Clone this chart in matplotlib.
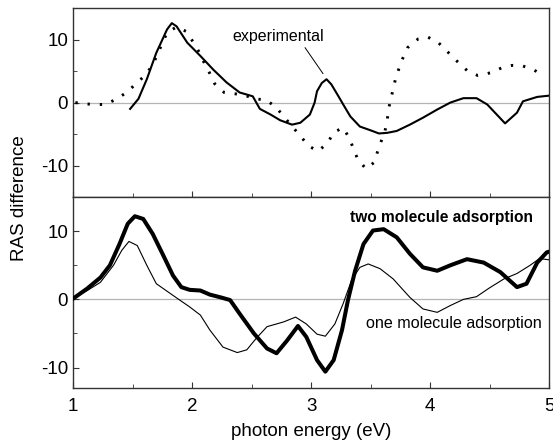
import numpy as np
import matplotlib.pyplot as plt

plt.rcParams['font.family'] = ['Liberation Sans', 'DejaVu Sans']
plt.rcParams['axes.unicode_minus'] = False

# --- datos ---
# panel superior: experimental (linea continua)
exp_x = [1.48, 1.55, 1.62, 1.70, 1.79, 1.83, 1.87, 1.96, 2.07, 2.18, 2.29, 2.40,
         2.51, 2.57, 2.66, 2.74, 2.84, 2.91, 2.99, 3.03, 3.05, 3.09, 3.13, 3.17,
         3.23, 3.27, 3.33, 3.41, 3.50, 3.57, 3.64, 3.72, 3.83, 3.94, 4.06, 4.17,
         4.28, 4.39, 4.48, 4.56, 4.63, 4.73, 4.78, 4.90, 5.00]
exp_y = [-1.0, 0.6, 3.7, 7.9, 11.6, 12.6, 12.1, 9.5, 7.4, 5.2, 3.2, 1.6,
         1.0, -1.0, -1.9, -2.8, -3.5, -3.2, -1.9, 0.0, 1.8, 3.1, 3.7, 2.9,
         1.0, -0.3, -2.2, -3.8, -4.4, -4.9, -4.8, -4.5, -3.5, -2.4, -1.1, 0.0,
         0.7, 0.7, -0.3, -1.9, -3.3, -1.6, 0.2, 0.9, 1.1]

# panel superior: curva punteada
dot_x = [1.02, 1.10, 1.18, 1.27, 1.36, 1.45, 1.53, 1.61, 1.67, 1.71, 1.79, 1.87,
         1.95, 2.01, 2.06, 2.10, 2.15, 2.19, 2.27, 2.36, 2.45, 2.53, 2.62, 2.70,
         2.77, 2.91, 2.98, 3.06, 3.14, 3.19, 3.27, 3.32, 3.39, 3.46, 3.53, 3.56,
         3.59, 3.62, 3.64, 3.65, 3.67, 3.69, 3.71, 3.74, 3.77, 3.81, 3.90, 3.98,
         4.07, 4.15, 4.23, 4.31, 4.40, 4.48, 4.52, 4.60, 4.69, 4.78, 4.87, 4.95]
dot_y = [0.0, -0.2, -0.3, -0.3, 0.5, 1.6, 3.0, 4.4, 6.0, 7.7, 11.1, 12.0,
         11.3, 9.6, 8.0, 6.4, 4.6, 3.0, 1.6, 1.4, 1.1, 0.6, 0.4, -0.6,
         -2.2, -5.3, -6.9, -7.7, -6.4, -4.7, -4.0, -5.6, -8.9, -10.5, -9.5, -7.7,
         -6.1, -4.6, -2.8, -1.1, 0.5, 2.2, 3.8, 5.5, 7.0, 8.7, 10.1, 10.4,
         9.5, 8.0, 6.5, 5.1, 4.3, 4.6, 4.8, 5.5, 5.9, 5.8, 5.2, 4.3]

# panel inferior: dos moleculas (gruesa)
two_x = [1.00, 1.12, 1.23, 1.31, 1.39, 1.46, 1.52, 1.59, 1.67, 1.76, 1.84, 1.91,
         1.98, 2.07, 2.15, 2.24, 2.32, 2.40, 2.52, 2.63, 2.71, 2.80, 2.89, 2.96,
         3.05, 3.12, 3.19, 3.26, 3.31, 3.37, 3.44, 3.52, 3.61, 3.72, 3.83, 3.94,
         4.06, 4.17, 4.31, 4.45, 4.59, 4.73, 4.81, 4.90, 4.98, 5.00]
two_y = [0.1, 1.6, 3.2, 5.0, 8.1, 11.1, 12.2, 11.8, 9.6, 6.4, 3.5, 1.8,
         1.4, 1.3, 0.7, 0.3, -0.1, -2.1, -5.0, -7.2, -7.9, -6.0, -3.9, -5.5,
         -8.9, -10.6, -8.9, -4.5, -0.1, 4.2, 8.1, 10.1, 10.3, 9.1, 6.7, 4.7,
         4.2, 5.0, 5.9, 5.4, 4.0, 1.8, 2.3, 5.4, 6.9, 7.0]

# panel inferior: una molecula (fina)
one_x = [1.00, 1.12, 1.23, 1.34, 1.41, 1.47, 1.54, 1.62, 1.70, 1.79, 1.88, 1.98,
         2.07, 2.15, 2.26, 2.38, 2.46, 2.54, 2.63, 2.77, 2.87, 2.96, 3.05, 3.12,
         3.20, 3.27, 3.34, 3.41, 3.48, 3.58, 3.69, 3.83, 3.94, 4.06, 4.17, 4.28,
         4.39, 4.50, 4.62, 4.73, 4.84, 4.92, 5.00]
one_y = [0.1, 1.3, 2.5, 5.0, 7.2, 8.5, 7.9, 5.0, 2.3, 1.2, 0.1, -1.1,
         -2.3, -4.5, -7.0, -7.8, -7.4, -5.7, -4.0, -3.3, -2.6, -3.6, -5.1, -5.4,
         -3.6, -0.6, 2.8, 4.7, 5.2, 4.5, 3.0, 0.3, -1.4, -1.9, -0.9, 0.0,
         0.4, 1.7, 3.0, 3.8, 5.0, 6.0, 5.8]

fig = plt.figure(figsize=(5.53, 4.46), dpi=100)
ax1 = fig.add_axes([0.132, 0.558, 0.861, 0.424])
ax2 = fig.add_axes([0.132, 0.130, 0.861, 0.428])

for ax in (ax1, ax2):
    ax.axhline(0, color="#b4b4b4", linewidth=0.9, zorder=1)
    ax.set_xlim(1, 5)
    ax.set_xticks([1, 2, 3, 4, 5])
    ax.set_xticks(np.arange(1, 5.01, 0.5), minor=True)
    ax.set_yticks([-10, 0, 10])
    ax.set_yticks([-5, 5], minor=True)
    ax.tick_params(which="both", direction="in", labelsize=13.5, color="#333333",
                   top=False, right=False)
    ax.tick_params(which="major", length=4)
    ax.tick_params(which="minor", length=3)
    for s in ax.spines.values():
        s.set_color("#333333")
        s.set_linewidth(1.0)

# Grafica superior
ax1.plot(exp_x, exp_y, color="black", linewidth=1.5, zorder=3)
ax1.plot(dot_x, dot_y, color="black", linewidth=2.1, linestyle=(0, (0.8, 3.4)),
         dash_capstyle="butt", zorder=3)
ax1.set_ylim(-15, 15)
ax1.tick_params(axis="x", labelbottom=False)
ax1.text(2.34, 10.5, "experimental", fontsize=11.5, va="center", ha="left")
ax1.plot([2.95, 3.10], [8.7, 4.6], color="black", linewidth=0.7)

# Grafica inferior
ax2.plot(two_x, two_y, color="black", linewidth=2.9, zorder=3)
ax2.plot(one_x, one_y, color="black", linewidth=0.8, zorder=3)
ax2.set_ylim(-13, 15)
ax2.tick_params(axis="x", pad=7)
ax2.text(3.33, 12.0, "two molecule adsorption", fontsize=11.2, fontweight="bold",
         va="center", ha="left")
ax2.text(3.46, -3.55, "one molecule adsorption", fontsize=11.6, va="center", ha="left")
ax2.set_xlabel("photon energy (eV)", fontsize=13.5, labelpad=6)

fig.text(0.035, 0.556, "RAS difference", rotation=90, fontsize=13.5,
         va="center", ha="center")

plt.savefig("out.png", dpi=100)
